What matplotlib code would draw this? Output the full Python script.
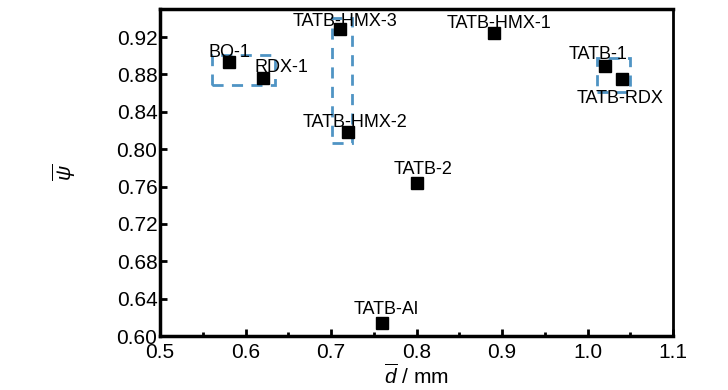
import matplotlib
matplotlib.use('Agg')
from matplotlib import pyplot as plt
from matplotlib.patches import Rectangle

plt.rcParams['font.family'] = ['Liberation Sans', 'DejaVu Sans']
plt.rcParams['mathtext.fontset'] = 'custom'
plt.rcParams['mathtext.it'] = 'Liberation Sans:italic'

# data
names = ['BQ-1', 'RDX-1', 'TATB-HMX-3', 'TATB-HMX-2', 'TATB-HMX-1',
         'TATB-1', 'TATB-RDX', 'TATB-2', 'TATB-Al']
d_mean = [0.58, 0.62, 0.71, 0.72, 0.89, 1.02, 1.04, 0.80, 0.76]
psi_mean = [0.893, 0.876, 0.929, 0.818, 0.924, 0.889, 0.875, 0.764, 0.614]

# label offsets in pixels (left edge, vertical centre) from the marker
label_off = [(-20, 10), (-8, 11), (-47, 7), (-46, 10), (-47, 10),
             (-36, 11), (-45, -19), (-23, 13), (-29, 14)]

# dashed group boxes: x0, x1, y0, y1
boxes = [(0.561, 0.634, 0.869, 0.901),
         (0.701, 0.725, 0.807, 0.940),
         (1.011, 1.050, 0.861, 0.898)]

xticks = [0.5, 0.6, 0.7, 0.8, 0.9, 1.0, 1.1]
yticks = [0.60, 0.64, 0.68, 0.72, 0.76, 0.80, 0.84, 0.88, 0.92]

fig = plt.figure(figsize=(7.28, 3.9), dpi=100)
ax = fig.add_axes([0.22, 0.138, 0.7045, 0.839])

for (x0, x1, y0, y1) in boxes:
    ax.add_patch(Rectangle((x0, y0), x1 - x0, y1 - y0, fill=False,
                           edgecolor='#4f94c4', linestyle=(0, (4, 3)), linewidth=2, zorder=2))

ax.plot(d_mean, psi_mean, linestyle='none', marker='s', color='black', markersize=8, zorder=3)

for name, x, y, (dx, dy) in zip(names, d_mean, psi_mean, label_off):
    ax.annotate(name, (x, y), xytext=(dx, dy), textcoords='offset pixels',
                fontsize=13, ha='left', va='center', zorder=4)

ax.set_xlim(0.5, 1.1)
ax.set_ylim(0.6, 0.95)
ax.set_xticks(xticks)
ax.set_xticklabels(['%.1f' % v for v in xticks])
ax.set_xticks([0.55, 0.65, 0.75, 0.85, 0.95, 1.05], minor=True)
ax.set_yticks(yticks)
ax.set_yticklabels(['%.2f' % v for v in yticks])
ax.tick_params(axis='both', which='major', direction='in', length=5, width=2, labelsize=15, pad=2)
ax.tick_params(axis='x', which='major', pad=5)
ax.tick_params(axis='x', which='minor', direction='in', length=3, width=2)
ax.tick_params(top=False, right=False)

for side in ['left', 'bottom', 'top']:
    ax.spines[side].set_linewidth(2.5)
ax.spines['right'].set_linewidth(2)

ax.set_xlabel(r'$\overline{d}$ / mm', fontsize=15, labelpad=1)
ax.set_ylabel(r'$\overline{\psi}$', fontsize=15, labelpad=28)

fig.savefig('out.png', dpi=100)
